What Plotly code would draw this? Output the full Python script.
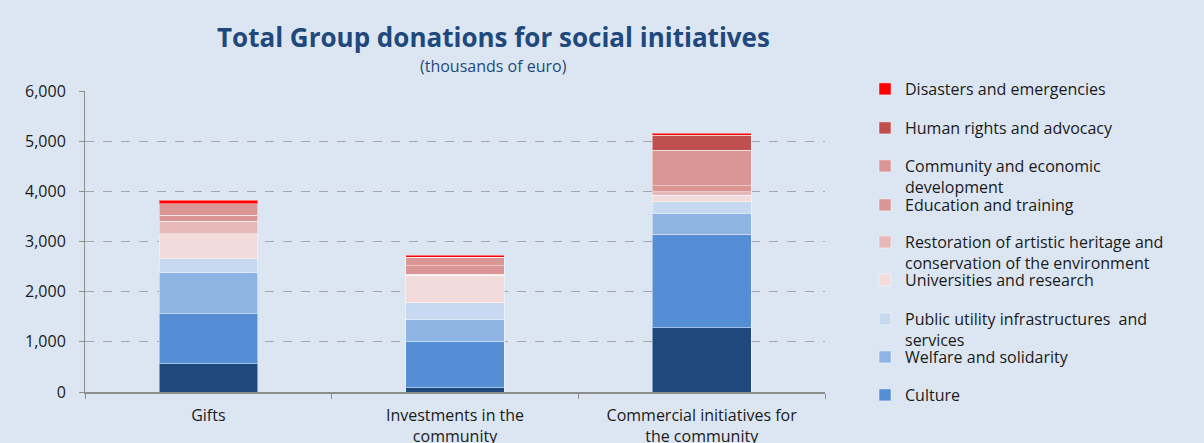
import plotly.graph_objects as go

categories = ["Gifts", "Investments in the<br>community", "Commercial initiatives for<br>the community"]

other = [560, 85, 1283]
culture = [997, 917, 1861]
welfare = [818, 445, 419]
public_utility = [280, 332, 226]
universities = [500, 552, 133]
restoration = [245, 20, 66]
education = [120, 166, 120]
community = [233, 173, 711]
human_rights = [0, 0, 300]
disasters = [65, 40, 35]

series = [
    ("Other", other, "#1f497d", False, None),
    ("Culture", culture, "#558ed5", True, 396),
    ("Welfare and solidarity", welfare, "#8eb4e3", True, 358),
    ("Public utility infrastructures  and<br>services", public_utility, "#c6d9f1", True, 320),
    ("Universities and research", universities, "#f2dcdb", True, 281),
    ("Restoration of artistic heritage and<br>conservation of the environment", restoration, "#e6b9b8", True, 243),
    ("Education and training", education, "#d99694", True, 206),
    ("Community and economic<br>development", community, "#d99694", True, 167),
    ("Human rights and advocacy", human_rights, "#c0504d", True, 129),
    ("Disasters and emergencies", disasters, "#ff0000", True, 90),
]

BG = "#dce6f2"
PLOT_TOP, PLOT_BOTTOM, PLOT_LEFT, PLOT_RIGHT = 91, 392, 85, 825
PH = PLOT_BOTTOM - PLOT_TOP
PW = PLOT_RIGHT - PLOT_LEFT

fig = go.Figure()
legend_layouts = {}
k = 0
for name, vals, color, show, ypix in series:
    kw = {}
    if show:
        k += 1
        lname = "legend" if k == 1 else f"legend{k}"
        kw["legend"] = lname
        legend_layouts[lname] = dict(
            x=(865 - PLOT_LEFT) / PW,
            xanchor="left",
            y=(PLOT_BOTTOM - (ypix - 18)) / PH,
            yanchor="top",
            bgcolor="rgba(0,0,0,0)",
            borderwidth=0,
            font=dict(family="Open Sans", size=16, color="#1a1a1a"),
            valign="top",
            itemwidth=30,
        )
    fig.add_trace(go.Bar(
        x=categories, y=vals, name=name,
        marker=dict(color=color, line=dict(color="rgba(255,255,255,0.45)", width=1)),
        showlegend=show, **kw,
    ))

fig.update_layout(
    barmode="stack",
    bargap=0.6,
    width=1204, height=443,
    paper_bgcolor=BG, plot_bgcolor=BG,
    margin=dict(l=PLOT_LEFT, r=1204 - PLOT_RIGHT, t=PLOT_TOP, b=443 - PLOT_BOTTOM, autoexpand=False),
    font=dict(family="Open Sans", size=16, color="#1a1a1a"),
    **legend_layouts,
    annotations=[
        dict(text="<b>Total Group donations for social initiatives</b>",
             xref="paper", yref="paper", x=(493 - PLOT_LEFT) / PW, y=(PLOT_BOTTOM - 37) / PH,
             xanchor="center", yanchor="middle", showarrow=False,
             font=dict(family="Open Sans", size=26, color="#1f497d")),
        dict(text="(thousands of euro)",
             xref="paper", yref="paper", x=(493 - PLOT_LEFT) / PW, y=(PLOT_BOTTOM - 66) / PH,
             xanchor="center", yanchor="middle", showarrow=False,
             font=dict(family="Open Sans", size=16, color="#1f497d")),
    ],
)

fig.update_yaxes(
    range=[0, 6000], tickvals=[0, 1000, 2000, 3000, 4000, 5000, 6000],
    tickformat=",d",
    showgrid=True, gridcolor="#a6a6a6", griddash="dash", gridwidth=1,
    showline=True, linecolor="#8c8c8c", linewidth=1,
    ticks="outside", ticklen=5, tickcolor="#8c8c8c",
    ticklabelstandoff=10, zeroline=False,
    tickfont=dict(size=16, color="#1a1a1a"),
)
fig.update_xaxes(
    showline=True, linecolor="#8c8c8c", linewidth=2,
    ticks="outside", ticklen=5, tickcolor="#8c8c8c", tickson="boundaries",
    ticklabelstandoff=8,
    tickfont=dict(size=16, color="#1a1a1a"),
)

fig.write_html("out.html", config={"displayModeBar": False},
               post_script="document.body.style.margin='0px';")
